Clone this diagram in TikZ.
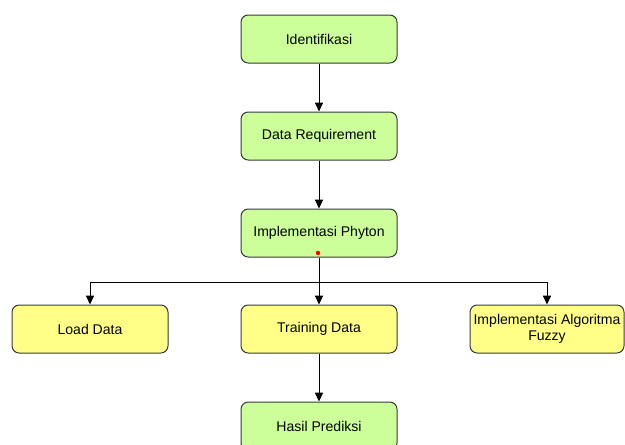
\documentclass[tikz,border=0pt]{standalone}
\usepackage{fontspec}
\setmainfont{Liberation Sans}
\usetikzlibrary{arrows.meta}
\definecolor{boxgreen}{HTML}{CCFF99}
\definecolor{boxyellow}{HTML}{FFFF88}
\definecolor{boxline}{HTML}{36393D}
\tikzset{
  step box/.style={draw=boxline, line width=0.025cm, rounded corners=0.18cm,
    minimum width=3.9cm, minimum height=1.2cm, align=center, inner sep=0pt,
    font=\fontsize{10pt}{11.5pt}\selectfont},
  green box/.style={step box, fill=boxgreen},
  yellow box/.style={step box, fill=boxyellow},
  flow/.style={line width=0.025cm, -{Triangle[length=0.22cm,width=0.2cm]}}
}
\begin{document}
\begin{tikzpicture}
                    \useasboundingbox (0,0) rectangle (15.625000,11.100000);
                    \clip (0,0) rectangle (15.625000,11.100000);

                    % Main column
                    \node [green box] (ident) at (7.975000,10.125000) {Identifikasi};
                    \node [green box] (datareq) at (7.975000,7.700000) {Data Requirement};
                    \node [green box] (impl) at (7.975000,5.275000) {Implementasi Phyton};

                    % Branches
                    \node [yellow box] (load) at (2.250000,2.875000) {Load Data};
                    \node [yellow box] (train) at (7.975000,2.875000) {Training Data};
                    \node [yellow box, minimum width=3.850000cm] (fuzzy) at (13.675000,2.875000) {Implementasi Algoritma\\Fuzzy};
                    \node [green box] (hasil) at (7.975000,0.450000) {Hasil Prediksi};

                    % Drawing connectors
                    \draw [flow] (ident) -- (datareq);%
                    \draw [flow] (datareq) -- (impl);%
                    \draw [flow] (impl) -- (train);%
                    \coordinate (split) at (7.975000,4.050000);
                    \draw [flow] (split) -| (load);%
                    \draw [flow] (split) -| (fuzzy);%
                    \draw [flow] (train) -- (hasil);%

                    % Marking red point
                    \fill [red] (7.950000,4.775000) circle (0.055000);%
\end{tikzpicture}
\end{document}
